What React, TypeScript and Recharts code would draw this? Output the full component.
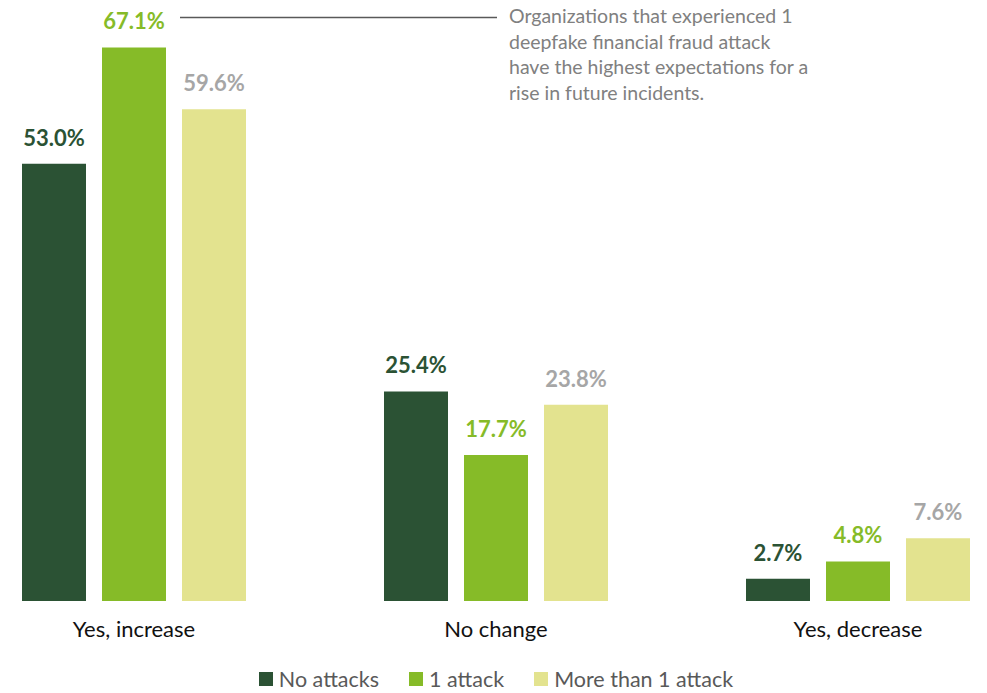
import { BarChart, Bar, XAxis, YAxis, LabelList, Legend } from 'recharts'

const categories = ['Yes, increase', 'No change', 'Yes, decrease']
const noAttacks = [53.0, 25.4, 2.7]
const oneAttack = [67.1, 17.7, 4.8]
const moreThanOne = [59.6, 23.8, 7.6]

const seriesNames = ['No attacks', '1 attack', 'More than 1 attack']
const seriesColors = ['#2b5234', '#86bb28', '#e3e38f']
const labelColors = ['#2b5234', '#86bb28', '#a6a6a6']

const noteLines = [
  'Organizations that experienced 1',
  'deepfake financial fraud attack',
  'have the highest expectations for a',
  'rise in future incidents.',
]

const data = categories.map((name, i) => ({
  name,
  none: noAttacks[i],
  one: oneAttack[i],
  more: moreThanOne[i],
}))

const keys = ['none', 'one', 'more']
const font = 'Lato, "Open Sans", sans-serif'

const renderLegend = () => (
  <div
    style={{
      display: 'flex',
      justifyContent: 'center',
      alignItems: 'center',
      height: 22,
      lineHeight: '22px',
      fontFamily: font,
      fontSize: 21.5,
      color: '#595959',
    }}
  >
    {seriesNames.map((n, i) => (
      <div key={n} style={{ display: 'flex', alignItems: 'center', marginRight: i < 2 ? 30 : 0 }}>
        <span style={{ width: 14, height: 14, background: seriesColors[i], marginRight: 6, display: 'inline-block' }} />
        <span>{n}</span>
      </div>
    ))}
  </div>
)

export default function App() {
  return (
    <div style={{ position: 'fixed', left: 0, top: 0, width: 987, height: 693, overflow: 'hidden', background: '#fff' }}>
      <BarChart
        width={1086}
        height={693}
        data={data}
        margin={{ top: 23.5, right: 0, left: 0, bottom: 0 }}
        barSize={64}
        barGap={16}
        style={{ position: 'absolute', left: -47, top: 0 }}
      >
        <XAxis
          dataKey="name"
          axisLine={false}
          tickLine={false}
          height={70}
          tickMargin={14}
          tick={{ fill: '#111', fontSize: 22, fontFamily: font }}
        />
        <YAxis hide domain={[0, 70]} />
        <Legend verticalAlign="bottom" height={22} content={renderLegend} wrapperStyle={{ bottom: 3 }} />
        {keys.map((k, i) => (
          <Bar key={k} dataKey={k} name={seriesNames[i]} fill={seriesColors[i]} isAnimationActive={false}>
            <LabelList
              dataKey={k}
              position="top"
              offset={18}
              formatter={(v: number) => `${v.toFixed(1)}%`}
              style={{ fill: labelColors[i], fontSize: 22, fontWeight: 700, fontFamily: font }}
            />
          </Bar>
        ))}
      </BarChart>
      <svg width={987} height={693} style={{ position: 'absolute', left: 0, top: 0, pointerEvents: 'none' }}>
        <line x1={180} y1={17.5} x2={497} y2={17.5} stroke="#595959" strokeWidth={1.5} />
      </svg>
      <div
        style={{
          position: 'absolute',
          left: 509,
          top: 3,
          fontFamily: font,
          fontSize: 19.5,
          lineHeight: '25.7px',
          color: '#808080',
          whiteSpace: 'nowrap',
        }}
      >
        {noteLines.map((l) => (
          <div key={l}>{l}</div>
        ))}
      </div>
    </div>
  )
}
